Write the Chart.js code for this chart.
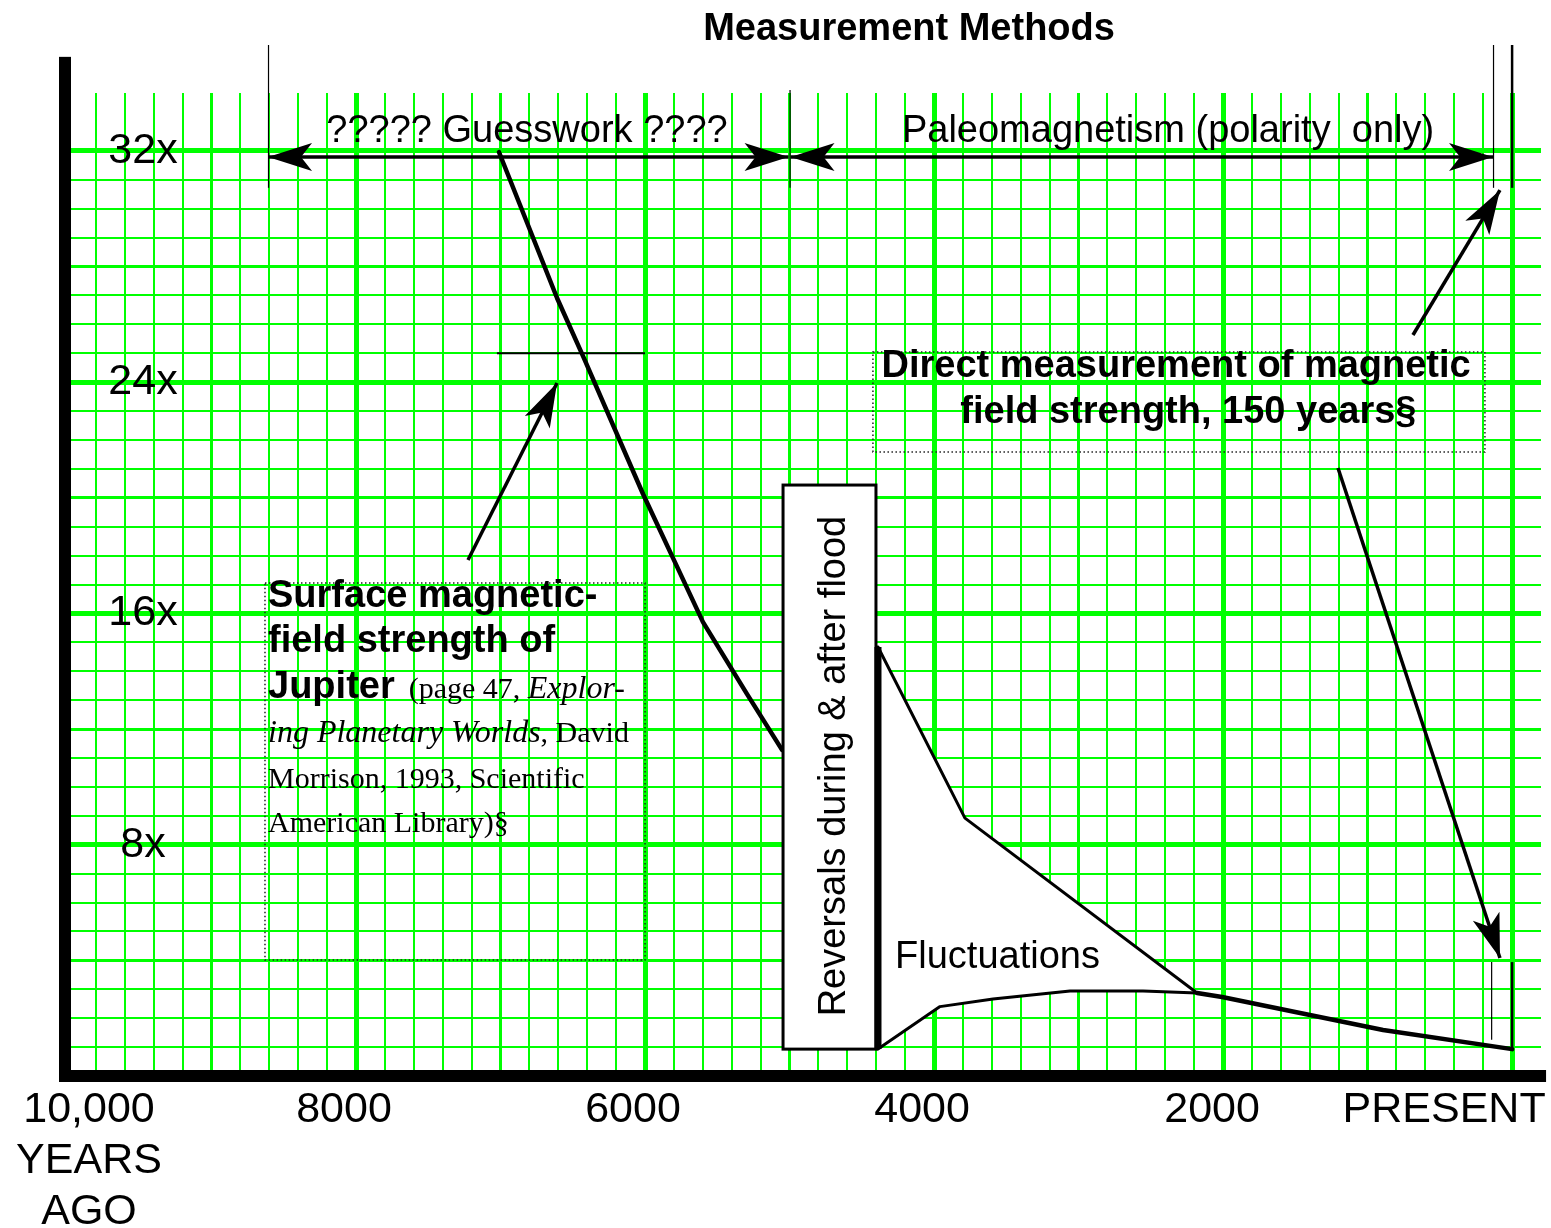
<!DOCTYPE html>
<html>
<head>
<meta charset="utf-8">
<script src="https://cdn.jsdelivr.net/npm/chart.js@4.4.1/dist/chart.umd.min.js"></script>
<style>
html,body{margin:0;padding:0;background:#fff;}
#wrap{width:1551px;height:1228px;position:relative;}
canvas{display:block;}
</style>
</head>
<body>
<div id="wrap"><canvas id="c" width="1551" height="1228"></canvas></div>
<script>
// ---------------- DATA (years ago, field strength multiple) ----------------
const mainYears      = [7011, 6609, 6429, 6014, 5807, 5599, 5294, 5052];
const mainStrength   = [31.96, 26.91, 24.90, 20.13, 17.92, 15.70, 13.21, 11.28];
const upperYears     = [4388, 3786, 2180];
const upperStrength  = [14.84, 8.92, 2.87];
const lowerYears     = [4388, 3959, 3592, 3059, 2554, 2180];
const lowerStrength  = [0.93, 2.40, 2.66, 2.94, 2.94, 2.87];
const recentYears    = [2180, 2007, 893, 0];
const recentStrength = [2.87, 2.73, 1.59, 0.93];
const jupiterYears   = [7025, 6000];
const jupiterStrength= [25, 25];
const xTickValues = [10000, 8000, 6000, 4000, 2000, 0];
const xTickLabels = [['10,000','YEARS','AGO'], ['8000'], ['6000'], ['4000'], ['2000'], ['PRESENT']];
const yTickValues = [32, 24, 16, 8];
const yTickLabels = ['32x', '24x', '16x', '8x'];

// ---------------- helpers ----------------
const SANS = '"Liberation Sans", Arial, sans-serif';
const SERIF = '"Liberation Serif", "Times New Roman", serif';
const pts = (xs, ys) => xs.map((x, i) => ({x: x, y: ys[i]}));
function lineDs(label, data, w, extra) {
  return Object.assign({label: label, data: data, borderColor: '#000', borderWidth: w,
    pointRadius: 0, fill: false, tension: 0, borderCapStyle: 'round', borderJoinStyle: 'round'}, extra || {});
}
const gridX = []; for (let v = -200; v <= 10000; v += 200) gridX.push(v);
const gridY = []; for (let v = 0; v <= 34; v += 1) gridY.push(v);

function arrowHead(ctx, x1, y1, x2, y2, L, W, N) {
  const a = Math.atan2(y2 - y1, x2 - x1), c = Math.cos(a), s = Math.sin(a);
  const bx = x2 - L * c, by = y2 - L * s;
  ctx.beginPath();
  ctx.moveTo(x2, y2);
  ctx.lineTo(bx - W * s, by + W * c);
  ctx.lineTo(x2 - (L - N) * c, y2 - (L - N) * s);
  ctx.lineTo(bx + W * s, by - W * c);
  ctx.closePath();
  ctx.fill();
}
function arrow(ctx, x1, y1, x2, y2, both) {
  const L = 44, W = 14, N = 11;
  ctx.save();
  ctx.strokeStyle = '#000'; ctx.fillStyle = '#000'; ctx.lineWidth = 3.5;
  ctx.beginPath(); ctx.moveTo(x1, y1); ctx.lineTo(x2, y2); ctx.stroke();
  arrowHead(ctx, x1, y1, x2, y2, L, W, N);
  if (both) arrowHead(ctx, x2, y2, x1, y1, L, W, N);
  ctx.restore();
}

const annotations = {
  id: 'annotations',
  afterDatasetsDraw(chart) {
    const ctx = chart.ctx, xs = chart.scales.x, ys = chart.scales.y;
    const X = v => xs.getPixelForValue(v), Y = v => ys.getPixelForValue(v);
    ctx.save();
    // axes
    ctx.fillStyle = '#000';
    ctx.fillRect(X(10000) - 8, Y(35.25), 12, Y(0) + 6 - Y(35.25));
    ctx.fillRect(X(10000) - 8, Y(0) - 6, X(-235) - X(10000) + 8, 12);

    // Reversals box
    ctx.fillStyle = '#fff'; ctx.strokeStyle = '#000'; ctx.lineWidth = 3;
    const bx1 = X(5045), bx2 = X(4402), by1 = Y(20.44), by2 = Y(0.93);
    ctx.fillRect(bx1, by1, bx2 - bx1, by2 - by1);
    ctx.strokeRect(bx1, by1, bx2 - bx1, by2 - by1);
    // thick edge of fluctuation zone
    ctx.lineWidth = 7;
    ctx.beginPath(); ctx.moveTo(X(upperYears[0]), Y(upperStrength[0])); ctx.lineTo(X(lowerYears[0]), Y(lowerStrength[0])); ctx.stroke();

    // dotted boxes
    ctx.strokeStyle = '#222'; ctx.lineWidth = 1.5; ctx.setLineDash([1.5, 2.5]);
    ctx.strokeRect(X(8630), Y(17.05), X(6000) - X(8630), Y(4.01) - Y(17.05));
    ctx.strokeRect(X(4423), Y(25.04), X(188) - X(4423), Y(21.58) - Y(25.04));
    ctx.setLineDash([]);

    // method marker lines
    ctx.strokeStyle = '#000'; ctx.lineWidth = 1.2;
    [[8609, 35.66, 30.72], [5000, 34.1, 30.72], [132, 35.66, 30.72], [145, 3.94, 1.25]].forEach(m => {
      ctx.beginPath(); ctx.moveTo(X(m[0]) + 0.5, Y(m[1])); ctx.lineTo(X(m[0]) + 0.5, Y(m[2])); ctx.stroke();
    });
    ctx.lineWidth = 2.5;
    [[0, 35.66, 30.72], [0, 3.94, 0.9]].forEach(m => {
      ctx.beginPath(); ctx.moveTo(X(m[0]), Y(m[1])); ctx.lineTo(X(m[0]), Y(m[2])); ctx.stroke();
    });

    // arrows
    arrow(ctx, X(8609), Y(31.79), X(5000) - 1, Y(31.79), true);
    arrow(ctx, X(5000) + 1, Y(31.79), X(132), Y(31.79), true);
    arrow(ctx, X(7225), Y(17.85), X(6609), Y(23.97), false);
    arrow(ctx, X(686), Y(25.63), X(84), Y(30.64), false);
    arrow(ctx, X(1205), Y(21.03), X(84), Y(4.08), false);
    ctx.restore();
  },
  afterDraw(chart) {
    const ctx = chart.ctx, xs = chart.scales.x, ys = chart.scales.y;
    const X = v => xs.getPixelForValue(v), Y = v => ys.getPixelForValue(v);
    ctx.save();
    ctx.fillStyle = '#000';
    ctx.textBaseline = 'alphabetic';

    // y labels
    ctx.font = '43px ' + SANS; ctx.textAlign = 'center';
    yTickValues.forEach((v, i) => ctx.fillText(yTickLabels[i], X(9474), Y(v) + 12));

    // x labels
    const offs = [22, -12, -12, -12, -11, -68];
    xTickValues.forEach((v, i) => {
      xTickLabels[i].forEach((t, j) => ctx.fillText(t, X(v) + offs[i], Y(0) + 46 + j * 51));
    });

    // title
    ctx.font = 'bold 38px ' + SANS;
    ctx.fillText('Measurement Methods', X(4173), Y(35.83));
    ctx.font = '38px ' + SANS;
    ctx.fillText('????? Guesswork ????', X(6817), Y(32.30));
    ctx.fillText('Paleomagnetism (polarity  only)', X(2381), Y(32.30));

    // Direct measurement label
    ctx.font = 'bold 38px ' + SANS;
    ctx.fillText('Direct measurement of magnetic', X(2325), Y(24.18));
    ctx.fillText('field strength, 150 years\u00a7', X(2240), Y(22.59));

    // Fluctuations
    ctx.font = '38px ' + SANS; ctx.textAlign = 'left';
    ctx.fillText('Fluctuations', X(4270), Y(3.74));

    // Jupiter label
    const lx = X(8609);
    ctx.font = 'bold 38px ' + SANS;
    ctx.fillText('Surface magnetic-', lx, Y(16.22));
    ctx.fillText('field strength of', lx, Y(14.66));
    ctx.fillText('Jupiter', lx, Y(13.07));
    let cx = lx + ctx.measureText('Jupiter').width + 14;
    ctx.font = '30px ' + SERIF;
    ctx.fillText('(page 47, ', cx, Y(13.07));
    cx += ctx.measureText('(page 47, ').width;
    ctx.font = 'italic 32px ' + SERIF;
    ctx.fillText('Explor-', cx, Y(13.07));
    ctx.fillText('ing Planetary Worlds', lx, Y(11.55));
    cx = lx + ctx.measureText('ing Planetary Worlds').width;
    ctx.font = '30px ' + SERIF;
    ctx.fillText(', David', cx, Y(11.55));
    ctx.fillText('Morrison, 1993, Scientific', lx, Y(9.96));
    ctx.fillText('American Library)\u00a7', lx, Y(8.44));

    // Reversals vertical text
    ctx.save();
    ctx.translate(X(4616), Y(10.72));
    ctx.rotate(-Math.PI / 2);
    ctx.font = '38px ' + SANS; ctx.textAlign = 'center';
    ctx.fillText('Reversals during & after flood', 0, 0);
    ctx.restore();
    ctx.restore();
  }
};

new Chart(document.getElementById('c'), {
  type: 'line',
  data: {
    datasets: [
      lineDs('Field decay', pts(mainYears, mainStrength), 4.5),
      lineDs('Fluctuations upper', pts(upperYears, upperStrength), 3, {fill: '+1', backgroundColor: '#ffffff'}),
      lineDs('Fluctuations lower', pts(lowerYears, lowerStrength), 3),
      lineDs('Recent decay', pts(recentYears, recentStrength), 4.5),
      lineDs('Jupiter', pts(jupiterYears, jupiterStrength), 2, {borderCapStyle: 'butt'})
    ]
  },
  options: {
    responsive: false,
    animation: false,
    devicePixelRatio: 1,
    layout: {padding: {left: 67, right: 10, top: 93, bottom: 152}},
    plugins: {
      legend: {display: false},
      tooltip: {enabled: false},
      filler: {drawTime: 'beforeDatasetsDraw'}
    },
    scales: {
      x: {
        type: 'linear', reverse: true, min: -200, max: 10000,
        afterBuildTicks: s => { s.ticks = gridX.map(v => ({value: v})); },
        afterFit: s => { s.height = 0; },
        ticks: {display: false},
        border: {display: false},
        grid: {
          drawTicks: false,
          color: c => (c.tick && c.tick.value < 0) ? 'rgba(0,0,0,0)' : '#00ff00',
          lineWidth: c => {
            const v = c.tick ? c.tick.value : 0;
            return v % 2000 === 0 ? 5 : (v % 1000 === 0 ? 3 : 2);
          }
        }
      },
      y: {
        type: 'linear', min: 0, max: 34,
        afterBuildTicks: s => { s.ticks = gridY.map(v => ({value: v})); },
        afterFit: s => { s.width = 0; },
        ticks: {display: false},
        border: {display: false},
        grid: {
          drawTicks: false,
          color: c => (c.tick && c.tick.value > 32) ? 'rgba(0,0,0,0)' : '#00ff00',
          lineWidth: c => {
            const v = c.tick ? c.tick.value : 0;
            return v % 8 === 0 ? 5 : (v % 4 === 0 ? 3 : 2);
          }
        }
      }
    }
  },
  plugins: [annotations]
});
</script>
</body>
</html>
